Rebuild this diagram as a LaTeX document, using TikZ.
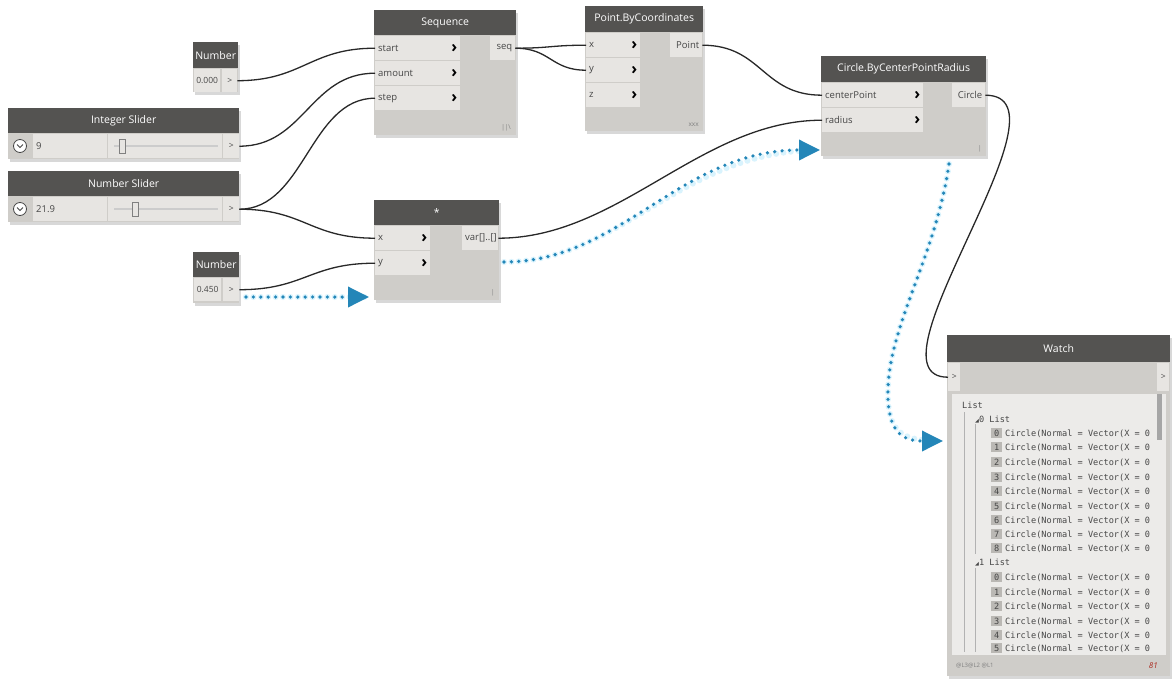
\documentclass[tikz,border=0pt]{standalone}
\usepackage{fontspec}
\setmainfont{Open Sans}
\newfontfamily\monofont{DejaVu Sans Mono}
\newfontfamily\symfont{DejaVu Sans}
\usetikzlibrary{positioning,arrows.meta,shadows}
\definecolor{headgray}{RGB}{84,83,81}
\definecolor{bodygray}{RGB}{207,205,201}
\definecolor{rowgray}{RGB}{231,229,226}
\definecolor{listgray}{RGB}{236,235,233}
\definecolor{idxgray}{RGB}{186,184,180}
\definecolor{textgray}{RGB}{70,70,70}
\definecolor{wiregray}{RGB}{40,40,40}
\definecolor{hintblue}{RGB}{36,134,184}
\definecolor{redcount}{RGB}{170,40,30}
\newcommand{\ix}[1]{{\setlength{\fboxsep}{1.5pt}\colorbox{idxgray}{\makebox[8pt]{#1}}}\hspace{3pt}}
\begin{document}
\begin{tikzpicture}[x=1pt,y=-1pt,
  box/.style={fill=bodygray,anchor=north west,inner sep=0pt,drop shadow={shadow xshift=2pt,shadow yshift=-3pt,opacity=.3}},
  head/.style={fill=headgray,text=white,anchor=north west,inner sep=0pt,font=\fontsize{10.5}{12}\selectfont},
  row/.style={fill=rowgray,anchor=north west,inner sep=0pt,inner xsep=3pt,minimum height=24pt,text=textgray,font=\fontsize{9.5}{11}\selectfont,align=left},
  outrow/.style={row,align=right},
  val/.style={row,inner xsep=1pt,minimum height=23pt,font=\fontsize{8.5}{10}\selectfont},
  chev/.style={anchor=east,inner sep=3pt,text=black,font=\bfseries\fontsize{16}{16}\selectfont},
  lace/.style={anchor=south east,inner sep=0pt,text=gray,font=\fontsize{6.5}{7}\selectfont},
  knob/.style={circle,draw=textgray,line width=.8pt,fill=white,minimum size=13pt,inner sep=0pt},
  thumb/.style={draw=gray,fill=rowgray,minimum width=6pt,minimum height=14pt,inner sep=0pt},
  track/.style={draw=gray!40,line width=1.5pt},
  item/.style={anchor=west,inner sep=0pt,text=textgray,font=\monofont\fontsize{8.6}{10}\selectfont},
  wire/.style={draw=wiregray,line width=1.3pt},
  hint/.style={draw=hintblue,line width=3.6pt,line cap=round,dash pattern=on 0pt off 7.4pt,preaction={draw=cyan!15,line width=6pt,line cap=round,dash pattern=on 0pt off 7.4pt,-},-{Triangle[length=21pt,width=20pt]}}]
\useasboundingbox[fill=white] (0,0) rectangle (1176,689);
\node[box,minimum width=45pt,minimum height=50pt] (n1) at (193,42) {};
\node[head,minimum width=45pt,minimum height=26pt] (n1h) at (193,42) {Number};
\node[val,minimum width=26pt] (n1v) at (194,69) {0.000};
\node[val,minimum width=15pt] (n1p) at (222,69) {>};
\node[box,minimum width=231pt,minimum height=51pt] (is) at (8,108) {};
\node[head,minimum width=231pt,minimum height=25pt] (ish) at (8,108) {Integer Slider};
\node[knob] (isk) at (20,146) {};
\draw[line width=.9pt,textgray] ([shift={(-3,-1.5)}]isk.center) -- ([shift={(0,1.5)}]isk.center) -- ([shift={(3,-1.5)}]isk.center);
\node[row,text width=68pt] (isv) at (33,134) {9};
\node[row,minimum width=114pt] (iss) at (108,134) {};
\draw[track] (114,146) -- (218,146);
\node[thumb] (ist) at (122,146) {};
\node[val,minimum width=16pt,minimum height=24pt] (isp) at (223,134) {>};
\node[box,minimum width=231pt,minimum height=51pt] (ns) at (8,171) {};
\node[head,minimum width=231pt,minimum height=25pt] (nsh) at (8,171) {Number Slider};
\node[knob] (nsk) at (20,209) {};
\draw[line width=.9pt,textgray] ([shift={(-3,-1.5)}]nsk.center) -- ([shift={(0,1.5)}]nsk.center) -- ([shift={(3,-1.5)}]nsk.center);
\node[row,text width=68pt] (nsv) at (33,197) {21.9};
\node[row,minimum width=114pt] (nss) at (108,197) {};
\draw[track] (114,209) -- (218,209);
\node[thumb] (nst) at (135,209) {};
\node[val,minimum width=16pt,minimum height=24pt] (nsp) at (223,197) {>};
\node[box,minimum width=46pt,minimum height=51pt] (n2) at (193,252) {};
\node[head,minimum width=46pt,minimum height=25pt] (n2h) at (193,252) {Number};
\node[val,minimum width=27pt] (n2v) at (194,278) {0.450};
\node[val,minimum width=16pt] (n2p) at (223,278) {>};
\node[box,minimum width=142pt,minimum height=125pt] (sq) at (374,10) {};
\node[head,minimum width=142pt,minimum height=25pt] (sqh) at (374,10) {Sequence};
\node[row,text width=79pt,label={[chev,name=sqsc]east:›}] (sqs) at (375,36) {start};
\node[row,text width=79pt,label={[chev,name=sqac]east:›}] (sqa) at (375,61) {amount};
\node[row,text width=79pt,label={[chev,name=sqtc]east:›}] (sqt) at (375,86) {step};
\node[outrow,text width=19pt] (sqo) at (490,36) {seq};
\node[lace] (sql) at (511,131) {||\textbackslash};
\node[box,minimum width=118pt,minimum height=125pt] (pt) at (585,6) {};
\node[head,minimum width=118pt,minimum height=26pt] (pth) at (585,6) {Point.ByCoordinates};
\node[row,text width=48pt,label={[chev,name=ptxc]east:›}] (ptx) at (586,33) {x};
\node[row,text width=48pt,label={[chev,name=ptyc]east:›}] (pty) at (586,58) {y};
\node[row,text width=48pt,label={[chev,name=ptzc]east:›}] (ptz) at (586,83) {z};
\node[outrow,text width=26pt] (pto) at (670,33) {Point};
\node[lace] (ptl) at (699,127) {xxx};
\node[box,minimum width=125pt,minimum height=100pt] (mu) at (374,200) {};
\node[head,minimum width=125pt,minimum height=25pt] (muh) at (374,200) {*};
\node[row,text width=49pt,label={[chev,name=muxc]east:›}] (mux) at (375,226) {x};
\node[row,text width=49pt,label={[chev,name=muyc]east:›}] (muy) at (375,251) {y};
\node[outrow,text width=30pt] (muo) at (462,226) {var[]..[]};
\node[lace] (mul) at (495,296) {|};
\node[box,minimum width=165pt,minimum height=100pt] (ci) at (821,56) {};
\node[head,minimum width=165pt,minimum height=26pt] (cih) at (821,56) {Circle.ByCenterPointRadius};
\node[row,text width=95pt,label={[chev,name=cicc]east:›}] (cic) at (822,83) {centerPoint};
\node[row,text width=95pt,label={[chev,name=circ]east:›}] (cir) at (822,108) {radius};
\node[outrow,text width=27pt] (cio) at (952,83) {Circle};
\node[lace] (cil) at (982,152) {|};
\node[box,minimum width=223pt,minimum height=341pt] (wa) at (947,335) {};
\node[head,minimum width=223pt,minimum height=27pt] (wah) at (947,335) {Watch};
\node[val,minimum width=12pt,minimum height=28pt] (wai) at (948,363) {>};
\node[val,minimum width=12pt,minimum height=28pt] (wao) at (1157,363) {>};
\node[fill=listgray,anchor=north west,inner sep=0pt,minimum width=214pt,minimum height=261pt] (wal) at (952,394) {};
\fill[gray!70] (1157,394) rectangle (1162,440);
\draw[gray!60,line width=.7pt] (964,412) -- (964,652) (975,424) -- (975,554) (975,568) -- (975,652);
\node[item] (li) at (962,405) {List};
\node[item] (l0) at (975,420) {{\symfont\fontsize{5}{6}\selectfont ◢}0 List};
\node[item] (a0) at (991,433) {\ix{0}Circle(Normal = Vector(X = 0};
\node[item] (a1) at (991,447) {\ix{1}Circle(Normal = Vector(X = 0};
\node[item] (a2) at (991,462) {\ix{2}Circle(Normal = Vector(X = 0};
\node[item] (a3) at (991,477) {\ix{3}Circle(Normal = Vector(X = 0};
\node[item] (a4) at (991,491) {\ix{4}Circle(Normal = Vector(X = 0};
\node[item] (a5) at (991,506) {\ix{5}Circle(Normal = Vector(X = 0};
\node[item] (a6) at (991,520) {\ix{6}Circle(Normal = Vector(X = 0};
\node[item] (a7) at (991,534) {\ix{7}Circle(Normal = Vector(X = 0};
\node[item] (a8) at (991,548) {\ix{8}Circle(Normal = Vector(X = 0};
\node[item] (l1) at (975,563) {{\symfont\fontsize{5}{6}\selectfont ◢}1 List};
\node[item] (b0) at (991,577) {\ix{0}Circle(Normal = Vector(X = 0};
\node[item] (b1) at (991,592) {\ix{1}Circle(Normal = Vector(X = 0};
\node[item] (b2) at (991,606) {\ix{2}Circle(Normal = Vector(X = 0};
\node[item] (b3) at (991,621) {\ix{3}Circle(Normal = Vector(X = 0};
\node[item] (b4) at (991,635) {\ix{4}Circle(Normal = Vector(X = 0};
\node[item] (b5) at (991,648) {\ix{5}Circle(Normal = Vector(X = 0};
\node[anchor=west,inner sep=0pt,text=gray,font=\fontsize{6}{7}\selectfont] (waf) at (956,666) {@L3@L2 @L1};
\node[anchor=east,inner sep=0pt,text=redcount,font=\itshape\fontsize{8}{9}\selectfont] (wan) at (1158,666) {81};
\draw[wire] (n1p.east) .. controls +(65,0) and +(-65,0) .. (sqs.west);
\draw[wire] (isp.east) .. controls +(65,0) and +(-65,0) .. (sqa.west);
\draw[wire] (nsp.east) .. controls +(65,0) and +(-65,0) .. (sqt.west);
\draw[wire] (nsp.east) .. controls +(65,0) and +(-65,0) .. (mux.west);
\draw[wire] (n2p.east) .. controls +(65,0) and +(-65,0) .. (muy.west);
\draw[wire] (sqo.east) .. controls +(35,0) and +(-35,0) .. (ptx.west);
\draw[wire] (sqo.east) .. controls +(35,0) and +(-35,0) .. (pty.west);
\draw[wire] (pto.east) .. controls +(60,0) and +(-60,0) .. (cic.west);
\draw[wire] (muo.east) .. controls +(121,0) and +(-121,0) .. (cir.west);
\draw[wire] (cio.east) .. controls +(95,0) and +(-90,0) .. (wai.west);
\coordinate (h1a) at (246,297);
\coordinate (h1b) at (369,297);
\coordinate (h2a) at (504,262);
\coordinate (h2b) at (820,150);
\coordinate (h3a) at (949,164);
\coordinate (h3m) at (888,400);
\coordinate (h3b) at (943,441);
\draw[hint] (h1a) -- (h1b);
\draw[hint] (h2a) .. controls +(117,0) and +(-140,0) .. (h2b);
\draw[hint] (h3a) .. controls +(-14,97) and +(-3,-70) .. (h3m) .. controls +(2,35) and +(-38,0) .. (h3b);
\end{tikzpicture}
\end{document}
